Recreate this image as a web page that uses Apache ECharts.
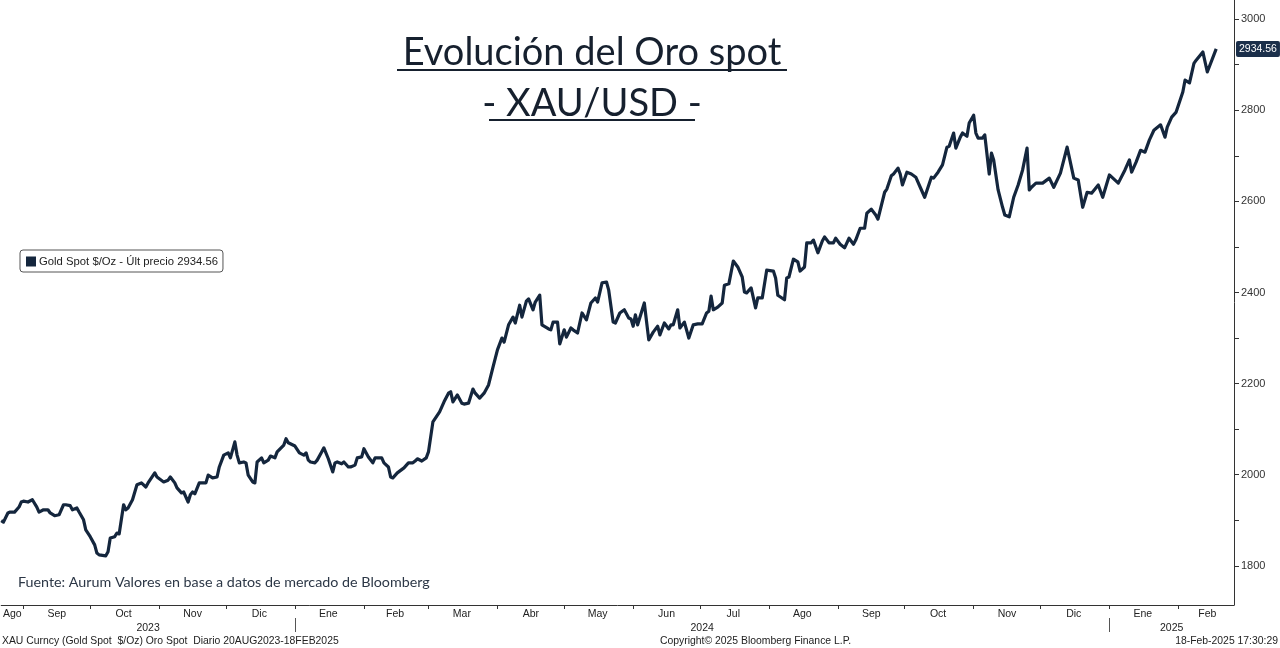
<!DOCTYPE html>
<html><head><meta charset="utf-8">
<script src="https://cdn.jsdelivr.net/npm/echarts@6/dist/echarts.min.js"></script>
<style>html,body{margin:0;padding:0;background:#fff}#c{width:1280px;height:648px}</style>
</head><body><div id="c"></div>
<script>
// ---- data (XAU/USD, daily) ----
const dates = [
'2023-08-22','2023-08-23','2023-08-25','2023-08-26','2023-08-28','2023-08-30','2023-08-31','2023-09-01','2023-09-03','2023-09-05',
'2023-09-07','2023-09-08','2023-09-10','2023-09-12','2023-09-13','2023-09-15','2023-09-17','2023-09-19','2023-09-20','2023-09-22',
'2023-09-23','2023-09-25','2023-09-26','2023-09-28','2023-09-29','2023-10-01','2023-10-03','2023-10-04','2023-10-05','2023-10-08',
'2023-10-09','2023-10-10','2023-10-12','2023-10-13','2023-10-14','2023-10-16','2023-10-17','2023-10-18','2023-10-20','2023-10-22',
'2023-10-24','2023-10-26','2023-10-27','2023-10-30','2023-10-31','2023-11-03','2023-11-05','2023-11-06','2023-11-08','2023-11-09',
'2023-11-11','2023-11-12','2023-11-14','2023-11-15','2023-11-16','2023-11-17','2023-11-19','2023-11-21','2023-11-22','2023-11-23',
'2023-11-25','2023-11-27','2023-11-28','2023-11-30','2023-12-02','2023-12-03','2023-12-05','2023-12-06','2023-12-07','2023-12-09',
'2023-12-10','2023-12-11','2023-12-13','2023-12-14','2023-12-15','2023-12-17','2023-12-18','2023-12-20','2023-12-21','2023-12-23',
'2023-12-24','2023-12-27','2023-12-28','2023-12-29','2024-01-01','2024-01-03','2024-01-05','2024-01-06','2024-01-07','2024-01-08',
'2024-01-10','2024-01-11','2024-01-13','2024-01-14','2024-01-16','2024-01-18','2024-01-19','2024-01-20','2024-01-22','2024-01-23',
'2024-01-25','2024-01-26','2024-01-28','2024-01-29','2024-01-31','2024-02-01','2024-02-03','2024-02-05','2024-02-06','2024-02-09',
'2024-02-10','2024-02-12','2024-02-13','2024-02-14','2024-02-16','2024-02-19','2024-02-21','2024-02-23','2024-02-24','2024-02-25',
'2024-02-27','2024-02-29','2024-03-01','2024-03-03','2024-03-06','2024-03-08','2024-03-10','2024-03-11','2024-03-12','2024-03-14',
'2024-03-16','2024-03-17','2024-03-19','2024-03-21','2024-03-22','2024-03-24','2024-03-26','2024-03-28','2024-03-30','2024-04-01',
'2024-04-03','2024-04-04','2024-04-06','2024-04-08','2024-04-09','2024-04-11','2024-04-12','2024-04-14','2024-04-15','2024-04-17',
'2024-04-18','2024-04-20','2024-04-21','2024-04-24','2024-04-25','2024-04-26','2024-04-28','2024-04-29','2024-05-01','2024-05-02',
'2024-05-04','2024-05-05','2024-05-07','2024-05-09','2024-05-11','2024-05-13','2024-05-15','2024-05-16','2024-05-18','2024-05-20',
'2024-05-21','2024-05-23','2024-05-24','2024-05-26','2024-05-28','2024-05-30','2024-05-31','2024-06-01','2024-06-02','2024-06-03',
'2024-06-06','2024-06-08','2024-06-10','2024-06-12','2024-06-13','2024-06-15','2024-06-17','2024-06-18','2024-06-19','2024-06-21',
'2024-06-22','2024-06-24','2024-06-26','2024-06-28','2024-06-30','2024-07-02','2024-07-04','2024-07-05','2024-07-06','2024-07-07',
'2024-07-09','2024-07-11','2024-07-12','2024-07-14','2024-07-16','2024-07-18','2024-07-20','2024-07-21','2024-07-22','2024-07-24',
'2024-07-26','2024-07-27','2024-07-29','2024-07-31','2024-08-03','2024-08-04','2024-08-05','2024-08-08','2024-08-09','2024-08-10',
'2024-08-12','2024-08-14','2024-08-15','2024-08-17','2024-08-18','2024-08-20','2024-08-21','2024-08-23','2024-08-25','2024-08-26',
'2024-08-28','2024-08-30','2024-08-31','2024-09-02','2024-09-04','2024-09-06','2024-09-08','2024-09-09','2024-09-11','2024-09-13',
'2024-09-14','2024-09-16','2024-09-18','2024-09-19','2024-09-22','2024-09-23','2024-09-25','2024-09-26','2024-09-28','2024-09-29',
'2024-09-30','2024-10-02','2024-10-04','2024-10-06','2024-10-08','2024-10-10','2024-10-13','2024-10-14','2024-10-16','2024-10-18',
'2024-10-20','2024-10-21','2024-10-23','2024-10-24','2024-10-26','2024-10-27','2024-10-29','2024-10-30','2024-11-01','2024-11-02',
'2024-11-03','2024-11-05','2024-11-06','2024-11-08','2024-11-09','2024-11-10','2024-11-12','2024-11-14','2024-11-15','2024-11-17',
'2024-11-19','2024-11-21','2024-11-23','2024-11-25','2024-11-26','2024-11-27','2024-11-29','2024-12-02','2024-12-05','2024-12-07',
'2024-12-10','2024-12-13','2024-12-16','2024-12-18','2024-12-20','2024-12-22','2024-12-24','2024-12-27','2024-12-29','2025-01-01',
'2025-01-05','2025-01-08','2025-01-10','2025-01-11','2025-01-13','2025-01-15','2025-01-17','2025-01-19','2025-01-21','2025-01-24',
'2025-01-26','2025-01-27','2025-01-29','2025-01-31','2025-02-03','2025-02-04','2025-02-06','2025-02-08','2025-02-09','2025-02-12',
'2025-02-14','2025-02-18'
];
const prices = [
1899,1896,1916,1918,1918,1929,1940,1942,1940,1945,
1929,1918,1923,1923,1916,1910,1912,1934,1934,1932,
1923,1927,1918,1901,1879,1864,1846,1828,1824,1822,
1831,1861,1864,1872,1870,1934,1923,1927,1945,1978,
1982,1973,1982,2004,1995,1984,1988,1995,1982,1971,
1960,1962,1940,1956,1962,1958,1982,1982,1982,1999,
1993,1995,2017,2043,2048,2037,2072,2043,2026,2028,
2026,1999,1984,1982,2028,2037,2026,2032,2041,2037,
2050,2065,2079,2070,2063,2048,2043,2048,2032,2028,
2026,2032,2050,2059,2035,2006,2026,2028,2024,2028,
2017,2017,2021,2037,2039,2057,2039,2026,2037,2037,
2026,2017,1995,1993,2004,2015,2026,2026,2030,2035,
2030,2037,2050,2116,2138,2160,2179,2182,2160,2175,
2157,2155,2157,2188,2179,2168,2179,2197,2236,2274,
2300,2291,2329,2346,2333,2372,2346,2381,2386,2362,
2379,2394,2329,2320,2318,2335,2335,2287,2318,2302,
2322,2318,2311,2355,2340,2377,2388,2379,2421,2423,
2405,2335,2333,2355,2362,2344,2342,2326,2351,2329,
2377,2296,2313,2326,2307,2333,2320,2329,2329,2362,
2322,2335,2300,2329,2331,2331,2355,2359,2392,2362,
2368,2377,2416,2419,2469,2456,2434,2401,2399,2410,
2366,2388,2388,2449,2447,2432,2394,2384,2432,2434,
2473,2467,2447,2456,2509,2509,2515,2487,2513,2522,
2509,2509,2519,2506,2498,2519,2506,2515,2541,2541,
2574,2583,2570,2561,2620,2627,2656,2660,2673,2660,
2636,2664,2660,2653,2631,2609,2653,2651,2664,2680,
2719,2721,2750,2717,2741,2750,2743,2772,2789,2750,
2739,2739,2746,2660,2706,2691,2625,2587,2570,2566,
2609,2636,2669,2717,2625,2631,2640,2640,2651,2631,
2662,2719,2651,2647,2587,2620,2618,2636,2609,2658,
2640,2669,2691,2664,2686,2712,2708,2735,2756,2768,
2741,2763,2785,2796,2840,2866,2860,2903,2910,2928,
2884,2934.56
];
const monthNames = ['Ene','Feb','Mar','Abr','May','Jun','Jul','Ago','Sep','Oct','Nov','Dic'];
const yTickValues = [1800,1900,2000,2100,2200,2300,2400,2500,2600,2700,2800,2900,3000];
const yLabelValues = [1800,2000,2200,2400,2600,2800,3000];
const axisStart = '2023-08-22', axisEnd = '2025-02-26';
const yMin = 1714, yMax = 3042;
const lastPrice = 2934.56;
const seriesName = 'Gold Spot $/Oz - Últ precio 2934.56';

// ---- build calendar-day categories ----
function fmt(d){ return d.toISOString().slice(0,10); }
const days = [];
for (let d = new Date(axisStart + 'T00:00:00Z'); fmt(d) <= axisEnd; d.setUTCDate(d.getUTCDate() + 1)) days.push(fmt(d));
const priceMap = {}; dates.forEach((d, i) => priceMap[d] = prices[i]);
const lineData = days.map(d => (d in priceMap ? priceMap[d] : null));

const monthSpans = {}, yearSpans = {};
days.forEach((d, i) => {
  const m = d.slice(0, 7), y = d.slice(0, 4);
  (monthSpans[m] = monthSpans[m] || [i, i])[1] = i;
  (yearSpans[y] = yearSpans[y] || [i, i])[1] = i;
});
const monthLabelIdx = new Set(Object.values(monthSpans).map(([a, b]) => Math.round((a + b) / 2)));
const yearLabelIdx = new Set(Object.values(yearSpans).map(([a, b]) => Math.round((a + b) / 2)));
const monthStartIdx = new Set(); const yearStartIdx = new Set();
days.forEach((d, i) => { if (i > 0 && d.endsWith('-01')) monthStartIdx.add(i); if (d.endsWith('-01-01')) yearStartIdx.add(i); });

const uiFont = 'Liberation Sans';
const titleFont = 'Lato';
const navy = '#14263d';

const chart = echarts.init(document.getElementById('c'), null, { renderer: 'canvas' });
chart.setOption({
  animation: false,
  backgroundColor: '#ffffff',
  title: [
    { text: 'Evolución del Oro spot\n- XAU/USD -', left: 592, top: 27, padding: 0, textAlign: 'center',
      textStyle: { fontFamily: titleFont, fontWeight: 'normal', fontSize: 38, lineHeight: 51, color: '#16202e' } },
    { text: 'Fuente: Aurum Valores en base a datos de mercado de Bloomberg', left: 18, top: 575, padding: 0,
      textStyle: { fontFamily: titleFont, fontWeight: 'normal', fontSize: 14.3, color: '#2c3746' } },
    { text: 'XAU Curncy (Gold Spot  $/Oz) Oro Spot  Diario 20AUG2023-18FEB2025', left: 2, top: 636, padding: 0,
      textStyle: { fontFamily: uiFont, fontWeight: 'normal', fontSize: 10.4, color: '#222' } },
    { text: 'Copyright© 2025 Bloomberg Finance L.P.', left: 660, top: 636, padding: 0,
      textStyle: { fontFamily: uiFont, fontWeight: 'normal', fontSize: 10.4, color: '#222' } },
    { text: '18-Feb-2025 17:30:29', right: 2, top: 636, padding: 0,
      textStyle: { fontFamily: uiFont, fontWeight: 'normal', fontSize: 10.4, color: '#222' } }
  ],
  graphic: [
    { type: 'line', shape: { x1: 397, y1: 70, x2: 787, y2: 70 }, style: { stroke: '#16202e', lineWidth: 2 } },
    { type: 'line', shape: { x1: 489, y1: 120, x2: 695, y2: 120 }, style: { stroke: '#16202e', lineWidth: 2 } }
  ],
  legend: {
    left: 20, top: 250, orient: 'horizontal',
    data: [seriesName], icon: 'rect', itemWidth: 10, itemHeight: 10, itemGap: 4,
    borderColor: '#555', borderWidth: 1, borderRadius: 3, padding: [6, 5, 5, 6],
    backgroundColor: '#fff',
    textStyle: { fontFamily: uiFont, fontSize: 11.3, color: '#222', padding: [0, 0, 0, -2] }
  },
  grid: [{ left: 0, right: 46, top: 0, bottom: 43, containLabel: false }],
  xAxis: [
    { type: 'category', gridIndex: 0, data: days, boundaryGap: false,
      axisLine: { show: true, lineStyle: { color: '#333', width: 1 } },
      axisTick: { show: true, interval: (i) => monthStartIdx.has(i), length: 4, lineStyle: { color: '#333' } },
      axisLabel: { interval: (i) => monthLabelIdx.has(i), formatter: (v) => monthNames[+v.slice(5, 7) - 1],
        fontFamily: uiFont, fontSize: 10.5, color: '#222', margin: 4, hideOverlap: false },
      splitLine: { show: false } },
    { type: 'category', gridIndex: 0, data: days, boundaryGap: false, position: 'bottom', offset: 13,
      axisLine: { show: false },
      axisTick: { show: true, interval: (i) => yearStartIdx.has(i), length: 14, lineStyle: { color: '#555' } },
      axisLabel: { interval: (i) => yearLabelIdx.has(i), formatter: (v) => v.slice(0, 4),
        fontFamily: uiFont, fontSize: 10.5, color: '#222', margin: 5, hideOverlap: false },
      splitLine: { show: false } }
  ],
  yAxis: [{
    type: 'value', gridIndex: 0, position: 'right', min: yMin, max: yMax,
    axisLine: { show: true, lineStyle: { color: '#333', width: 1 } },
    axisTick: { show: true, length: 5, customValues: yTickValues, lineStyle: { color: '#333' } },
    axisLabel: { customValues: yLabelValues, formatter: (v) => String(v), margin: 7, fontFamily: uiFont, fontSize: 11, color: '#333' },
    splitLine: { show: false },
    axisPointer: {
      show: true, type: 'line', value: lastPrice, status: 'show', snap: false, triggerTooltip: false,
      lineStyle: { opacity: 0 },
      label: { show: true, formatter: (p) => Number(p.value).toFixed(2), backgroundColor: '#1b2f4a', color: '#fff',
        fontFamily: uiFont, fontSize: 10.5, padding: [3, 3, 2, 3], margin: 2, borderRadius: 2 }
    }
  }],
  axisPointer: { triggerOn: 'none' },
  series: [{
    name: seriesName, type: 'line', xAxisIndex: 0, yAxisIndex: 0,
    data: lineData, connectNulls: true, showSymbol: false, symbol: 'none',
    lineStyle: { color: navy, width: 3.2, join: 'round' }, itemStyle: { color: navy },
    z: 3
  }]
});
</script></body></html>
